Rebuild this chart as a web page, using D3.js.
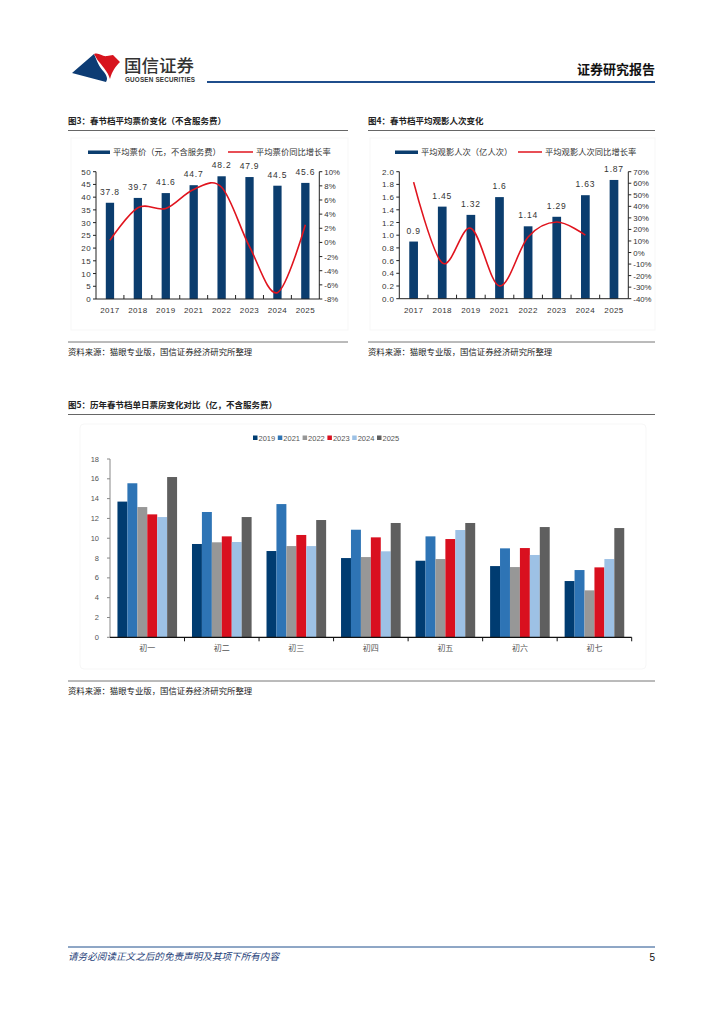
<!DOCTYPE html>
<html><head><meta charset="utf-8">
<script src="https://cdn.jsdelivr.net/npm/d3@7/dist/d3.min.js"></script>
<style>
body{margin:0;background:#fff;}
svg{display:block;font-family:"Noto Sans CJK SC","Liberation Sans",sans-serif;}
</style></head>
<body>
<svg id="page" width="724" height="1024"></svg>
<script>
// ---------- data ----------
const years34 = ["2017","2018","2019","2021","2022","2023","2024","2025"];
const avgPrice = [37.8, 39.7, 41.6, 44.7, 48.2, 47.9, 44.5, 45.6];
const priceGrowth = [0.3, 4.9, 4.8, 7.5, 7.8, -0.6, -7.1, 2.5];
const avgAudience = [0.9, 1.45, 1.32, 1.6, 1.14, 1.29, 1.63, 1.87];
const audienceGrowth = [61, -9, 21, -29, 13.5, 26.4, 15]; // plotted 2017..2024 as in source
const leftTicks3 = [0,5,10,15,20,25,30,35,40,45,50];
const rightTicks3 = [-8,-6,-4,-2,0,2,4,6,8,10];
const leftTicks4 = [0,0.2,0.4,0.6,0.8,1.0,1.2,1.4,1.6,1.8,2.0];
const rightTicks4 = [-40,-30,-20,-10,0,10,20,30,40,50,60,70];

const days = ["初一","初二","初三","初四","初五","初六","初七"];
const years5 = ["2019","2021","2022","2023","2024","2025"];
const v2019 = [13.7, 9.42, 8.71, 8.0, 7.73, 7.19, 5.68];
const v2021 = [15.55, 12.65, 13.45, 10.86, 10.19, 8.98, 6.79];
const v2022 = [13.15, 9.59, 9.21, 8.1, 7.9, 7.09, 4.74];
const v2023 = [12.41, 10.19, 10.33, 10.09, 9.92, 9.01, 7.06];
const v2024 = [12.14, 9.62, 9.21, 8.68, 10.83, 8.31, 7.9];
const v2025 = [16.18, 12.14, 11.84, 11.54, 11.54, 11.13, 11.03];
const ticks5 = [0,2,4,6,8,10,12,14,16,18];

const series5 = [v2019, v2021, v2022, v2023, v2024, v2025];
const colors5 = ["#003c71","#2e74b5","#979797","#d9101f","#9dc1e5","#5f5f5f"];
const navy = "#0b3d6e";
const red = "#e0141e";
const blue = "#1f4e8c";

const svg = d3.select("#page");
const num = "'Liberation Sans',Arial,sans-serif";

// ---------- header ----------
svg.append("path").attr("d","M72,73 L94,54 C97,61 99,67 104,72 C107,76 108,79 106,82 Z").attr("fill","#0d3c74");
svg.append("path").attr("d","M94,54 C99,52 102,57 107,56 L113,55 L120,62 C116,66 112,71 110,79 C108,72 103,67 100,63 C97,60 96,57 94,54 Z").attr("fill","#d7141e");
svg.append("text").attr("x",124).attr("y",72).attr("font-size",17.5).attr("fill","#333").attr("font-weight",500).text("国信证券");
svg.append("text").attr("x",125).attr("y",81.5).attr("font-size",6.3).attr("fill","#333").attr("font-weight","bold").attr("font-family",num).attr("textLength",70).text("GUOSEN SECURITIES");
svg.append("line").attr("x1",207).attr("x2",655).attr("y1",82).attr("y2",82).attr("stroke",blue).attr("stroke-width",2);
svg.append("text").attr("x",655).attr("y",74).attr("text-anchor","end").attr("font-size",13).attr("font-weight","bold").attr("fill","#111").text("证券研究报告");

// ---------- titles & sources ----------
function title(x, y, x2, t){
  svg.append("text").attr("x",x).attr("y",y).attr("font-size",8.5).attr("font-weight","bold").attr("fill","#222").text(t);
  svg.append("line").attr("x1",x).attr("x2",x2).attr("y1",y+6.5).attr("y2",y+6.5).attr("stroke","#666").attr("stroke-width",1);
}
function source(x, y, x2){
  svg.append("line").attr("x1",x).attr("x2",x2).attr("y1",y).attr("y2",y).attr("stroke","#777").attr("stroke-width",1);
  svg.append("text").attr("x",x).attr("y",y+13).attr("font-size",8.4).attr("fill","#222").text("资料来源：猫眼专业版，国信证券经济研究所整理");
}
title(68,124,348,"图3：春节档平均票价变化（不含服务费）");
title(368,124,655,"图4：春节档平均观影人次变化");
title(68,408,655,"图5：历年春节档单日票房变化对比（亿，不含服务费）");
source(68,342,348);
source(368,342,655);
source(68,681,655);

// ---------- combo chart ----------
function combo(opts){
  const g = svg.append("g");
  g.append("rect").attr("x",opts.panel[0]).attr("y",opts.panel[1]).attr("width",opts.panel[2]).attr("height",opts.panel[3]).attr("fill","none").attr("stroke","#f7f7f7");
  const x = d3.scaleBand().domain(years34).range([opts.x0, opts.x1]).padding(0);
  const yL = d3.scaleLinear().domain(opts.lDom).range([opts.yb, opts.yt]);
  const yR = d3.scaleLinear().domain(opts.rDom).range([opts.yb, opts.yt]);
  const bw = opts.barW;
  g.selectAll(".bar").data(opts.bars).enter().append("rect")
    .attr("x",(d,i)=>x(years34[i])+x.bandwidth()/2-bw/2)
    .attr("y",d=>yL(d)).attr("width",bw).attr("height",d=>yL(0)-yL(d)).attr("fill",navy);
  g.selectAll(".lbl").data(opts.bars).enter().append("text")
    .attr("x",(d,i)=>x(years34[i])+x.bandwidth()/2)
    .attr("y",d=>yL(d)-8).attr("text-anchor","middle").attr("font-size",8.5)
    .attr("font-family",num).attr("fill","#333").attr("letter-spacing",0.8).text(opts.fmt);
  const line = d3.line().x((d,i)=>x(years34[i])+x.bandwidth()/2).y(d=>yR(d)).curve(d3.curveCatmullRom.alpha(0));
  g.append("path").datum(opts.line).attr("d",line).attr("fill","none").attr("stroke",red).attr("stroke-width",1.6);
  const ax = "#222";
  g.append("line").attr("x1",opts.x0).attr("x2",opts.x1).attr("y1",opts.yb).attr("y2",opts.yb).attr("stroke",ax);
  g.append("line").attr("x1",opts.x0).attr("x2",opts.x0).attr("y1",opts.yb).attr("y2",opts.yt).attr("stroke",ax);
  g.append("line").attr("x1",opts.x1).attr("x2",opts.x1).attr("y1",opts.yb).attr("y2",opts.yt).attr("stroke",ax);
  years34.forEach((d,i)=>{
    if(i>0) g.append("line").attr("x1",x(d)).attr("x2",x(d)).attr("y1",opts.yb).attr("y2",opts.yb-4).attr("stroke",ax);
    g.append("text").attr("x",x(d)+x.bandwidth()/2).attr("y",opts.yb+14).attr("text-anchor","middle")
      .attr("font-size",8).attr("font-family",num).attr("fill","#333").attr("letter-spacing",0.4).text(d);
  });
  opts.lTicks.forEach(t=>{
    g.append("line").attr("x1",opts.x0-3).attr("x2",opts.x0).attr("y1",yL(t)).attr("y2",yL(t)).attr("stroke",ax);
    g.append("text").attr("x",opts.x0-5).attr("y",yL(t)+3).attr("text-anchor","end").attr("font-size",8)
      .attr("font-family",num).attr("fill","#333").attr("letter-spacing",0.4).text(opts.lFmt(t));
  });
  opts.rTicks.forEach(t=>{
    g.append("line").attr("x1",opts.x1).attr("x2",opts.x1+3).attr("y1",yR(t)).attr("y2",yR(t)).attr("stroke",ax);
    g.append("text").attr("x",opts.x1+5).attr("y",yR(t)+3).attr("text-anchor","start").attr("font-size",7.8)
      .attr("font-family",num).attr("fill","#333").text(t+"%");
  });
  const L = opts.legend;
  g.append("rect").attr("x",L.rx).attr("y",L.y-1.5).attr("width",L.rw).attr("height",3.5).attr("fill",navy);
  g.append("text").attr("x",L.rx+L.rw+3).attr("y",L.y+3).attr("font-size",8.3).attr("fill","#333").text(L.t1);
  g.append("line").attr("x1",L.lx).attr("x2",L.lx+L.lw).attr("y1",L.y).attr("y2",L.y).attr("stroke",red).attr("stroke-width",1.5);
  g.append("text").attr("x",L.lx+L.lw+3).attr("y",L.y+3).attr("font-size",8.3).attr("fill","#333").text(L.t2);
}

combo({panel:[71,138,277,192], x0:96, x1:319.3, yb:299, yt:171.7, lDom:[0,50], rDom:[-8,10], barW:8.3,
  bars:avgPrice, line:priceGrowth, fmt:d=>d.toFixed(1), lTicks:leftTicks3, rTicks:rightTicks3, lFmt:d=>d,
  legend:{y:152, rx:88, rw:22, t1:"平均票价（元，不含服务费）", lx:228, lw:25, t2:"平均票价同比增长率"}});

combo({panel:[370,138,285,192], x0:399.3, x1:628.3, yb:298.7, yt:171.7, lDom:[0,2], rDom:[-40,70], barW:8.7,
  bars:avgAudience, line:audienceGrowth, fmt:d=>String(d), lTicks:leftTicks4, rTicks:rightTicks4, lFmt:d=>d.toFixed(1),
  legend:{y:152, rx:395, rw:23, t1:"平均观影人次（亿人次）", lx:518, lw:24, t2:"平均观影人次同比增长率"}});

// ---------- grouped bar chart ----------
(function(){
  const g = svg.append("g");
  g.append("rect").attr("x",80).attr("y",424).attr("width",566).attr("height",245).attr("rx",4).attr("fill","none").attr("stroke","#f7f7f7");
  const x0 = d3.scaleBand().domain(days).range([110,631.7]).paddingInner(0.2).paddingOuter(0.1);
  const x1 = d3.scaleBand().domain(years5).range([0,x0.bandwidth()]).padding(0);
  const y = d3.scaleLinear().domain([0,18]).range([637.3,459]);
  series5.forEach((vals,si)=>{
    g.selectAll(".b"+si).data(vals).enter().append("rect")
      .attr("x",(d,i)=>x0(days[i])+x1(years5[si]))
      .attr("y",d=>y(d)).attr("width",x1.bandwidth()).attr("height",d=>y(0)-y(d)).attr("fill",colors5[si]);
  });
  g.append("line").attr("x1",110).attr("x2",110).attr("y1",y(0)).attr("y2",y(18)).attr("stroke","#888");
  ticks5.forEach(t=>{
    g.append("line").attr("x1",107).attr("x2",110).attr("y1",y(t)).attr("y2",y(t)).attr("stroke","#888");
    g.append("text").attr("x",99).attr("y",y(t)+2.6).attr("text-anchor","end").attr("font-size",7.5)
      .attr("font-family",num).attr("fill","#555").text(t);
  });
  g.append("line").attr("x1",110).attr("x2",631.7).attr("y1",y(0)).attr("y2",y(0)).attr("stroke","#111").attr("stroke-width",1.2);
  const step = x0.step();
  days.forEach((d,i)=>{
    const bx = 110 + step*(i+1);
    g.append("line").attr("x1",bx).attr("x2",bx).attr("y1",y(0)).attr("y2",y(0)+4).attr("stroke","#111");
    g.append("text").attr("x",110+step*(i+0.5)).attr("y",651).attr("text-anchor","middle").attr("font-size",8)
      .attr("fill","#555").text(d);
  });
  years5.forEach((yr,i)=>{
    const lx = 253 + i*24.8;
    g.append("rect").attr("x",lx).attr("y",435.5).attr("width",4.5).attr("height",4.5).attr("fill",colors5[i]);
    g.append("text").attr("x",lx+5.5).attr("y",440.5).attr("font-size",7.5).attr("font-family",num).attr("fill","#555").text(yr);
  });
})();

// ---------- footer ----------
svg.append("line").attr("x1",68).attr("x2",655).attr("y1",947).attr("y2",947).attr("stroke",blue).attr("stroke-width",1);
svg.append("text").attr("x",68).attr("y",960).attr("font-size",9.6).attr("font-style","italic").attr("fill","#1f3f7a").text("请务必阅读正文之后的免责声明及其项下所有内容");
svg.append("text").attr("x",655).attr("y",961).attr("text-anchor","end").attr("font-size",10).attr("font-family",num).attr("fill","#111").text("5");
</script>
</body></html>
